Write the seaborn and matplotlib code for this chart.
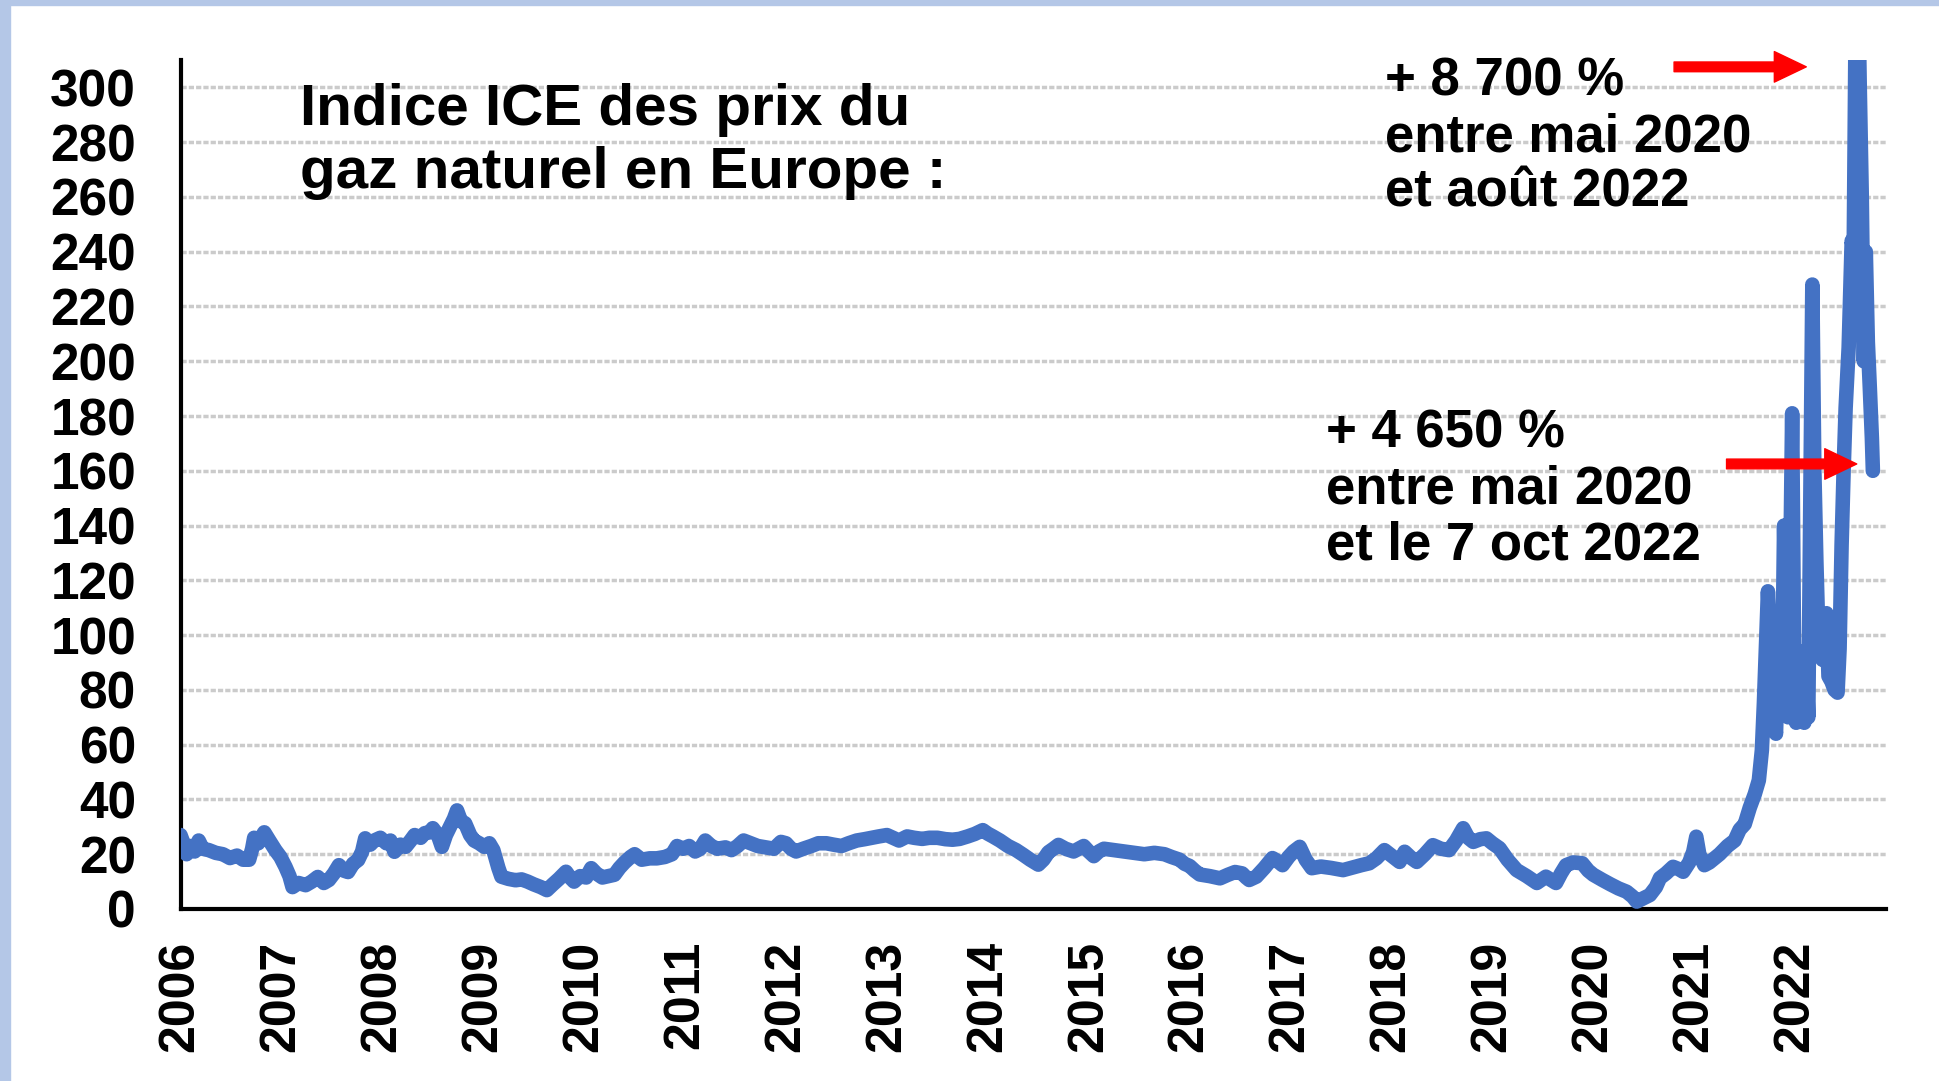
import numpy as np
import pandas as pd
import matplotlib
matplotlib.use("Agg")
import matplotlib.pyplot as plt
from matplotlib.patches import Rectangle
import seaborn as sns

# ICE natural gas price index, Europe
years = [
    2006.00, 2006.03, 2006.06, 2006.10, 2006.14, 2006.18, 2006.22, 2006.28, 2006.35, 2006.42,
    2006.49, 2006.56, 2006.62, 2006.68, 2006.71, 2006.73, 2006.77, 2006.83, 2006.88, 2006.94,
    2006.99, 2007.04, 2007.08, 2007.11, 2007.17, 2007.24, 2007.30, 2007.36, 2007.42, 2007.47,
    2007.52, 2007.57, 2007.62, 2007.66, 2007.71, 2007.76, 2007.80, 2007.83, 2007.88, 2007.92,
    2007.98, 2008.04, 2008.08, 2008.12, 2008.18, 2008.23, 2008.28, 2008.32, 2008.38, 2008.42,
    2008.47, 2008.50, 2008.55, 2008.59, 2008.63, 2008.67, 2008.71, 2008.74, 2008.78, 2008.82,
    2008.87, 2008.91, 2008.96, 2009.01, 2009.06, 2009.10, 2009.15, 2009.18, 2009.25, 2009.32,
    2009.38, 2009.44, 2009.50, 2009.57, 2009.63, 2009.69, 2009.75, 2009.82, 2009.86, 2009.90,
    2009.96, 2010.02, 2010.07, 2010.12, 2010.18, 2010.24, 2010.30, 2010.35, 2010.40, 2010.46,
    2010.50, 2010.57, 2010.65, 2010.72, 2010.80, 2010.87, 2010.92, 2010.98, 2011.04, 2011.10,
    2011.15, 2011.20, 2011.26, 2011.32, 2011.40, 2011.46, 2011.52, 2011.58, 2011.65, 2011.72,
    2011.80, 2011.88, 2011.95, 2012.00, 2012.05, 2012.10, 2012.17, 2012.25, 2012.32, 2012.40,
    2012.47, 2012.55, 2012.62, 2012.70, 2012.78, 2012.85, 2012.92, 2013.00, 2013.06, 2013.12,
    2013.20, 2013.27, 2013.35, 2013.42, 2013.50, 2013.58, 2013.65, 2013.72, 2013.80, 2013.87,
    2013.95, 2014.00, 2014.05, 2014.12, 2014.20, 2014.28, 2014.35, 2014.42, 2014.50, 2014.55,
    2014.60, 2014.65, 2014.70, 2014.77, 2014.85, 2014.90, 2014.95, 2015.00, 2015.05, 2015.10,
    2015.15, 2015.25, 2015.35, 2015.45, 2015.55, 2015.65, 2015.75, 2015.82, 2015.90, 2015.95,
    2016.00, 2016.05, 2016.10, 2016.20, 2016.30, 2016.38, 2016.45, 2016.52, 2016.56, 2016.59,
    2016.66, 2016.74, 2016.82, 2016.87, 2016.92, 2016.98, 2017.03, 2017.09, 2017.15, 2017.21,
    2017.30, 2017.40, 2017.52, 2017.60, 2017.70, 2017.78, 2017.85, 2017.93, 2018.00, 2018.08,
    2018.13, 2018.20, 2018.25, 2018.33, 2018.41, 2018.49, 2018.57, 2018.64, 2018.71, 2018.76,
    2018.81, 2018.88, 2018.94, 2019.00, 2019.07, 2019.15, 2019.24, 2019.34, 2019.44, 2019.53,
    2019.63, 2019.68, 2019.73, 2019.80, 2019.89, 2019.95, 2020.00, 2020.09, 2020.17, 2020.25,
    2020.33, 2020.39, 2020.43, 2020.50, 2020.56, 2020.62, 2020.66, 2020.72, 2020.79, 2020.85,
    2020.89, 2020.95, 2020.99, 2021.02, 2021.05, 2021.10, 2021.15, 2021.25, 2021.33, 2021.40,
    2021.45, 2021.50, 2021.55, 2021.60, 2021.64, 2021.67, 2021.69, 2021.71, 2021.73, 2021.75,
    2021.77, 2021.79, 2021.81, 2021.83, 2021.85, 2021.87, 2021.89, 2021.91, 2021.93, 2021.95,
    2021.97, 2021.99, 2022.01, 2022.03, 2022.05, 2022.07, 2022.09, 2022.11, 2022.13, 2022.15,
    2022.17, 2022.19, 2022.21, 2022.23, 2022.25, 2022.27, 2022.29, 2022.31, 2022.33, 2022.36,
    2022.39, 2022.42, 2022.44, 2022.46, 2022.48, 2022.50, 2022.53, 2022.56, 2022.58, 2022.60,
    2022.62, 2022.64, 2022.66, 2022.68, 2022.70, 2022.72, 2022.74, 2022.76, 2022.77,
]
price_index = [
    27, 24, 20, 23, 21, 25, 22, 21.5, 20.5, 20,
    18.6, 19.5, 18, 18, 22, 26, 24, 28, 25, 21.5,
    19, 15.4, 12, 8, 9.5, 8.7, 10, 11.7, 9.5, 10.6,
    13, 16, 14, 13.5, 16.5, 17.9, 21, 25.8, 23.5, 25,
    26, 24, 25, 20.9, 23.5, 22.7, 25, 27, 26, 27.7,
    28, 29.5, 27, 22.7, 27, 30, 33, 36, 32, 31.3,
    27, 25, 24, 22.7, 24, 21.5, 15, 11.8, 11, 10.5,
    10.8, 10, 9, 8, 6.9, 9, 11, 13.6, 11.5, 10,
    12, 11.5, 14.9, 13, 11.5, 12, 12.5, 15, 17, 19,
    20, 18, 18.5, 18.5, 19, 20, 23, 22, 23, 21,
    22, 25, 23, 22, 22.5, 21.5, 23, 25, 24, 23,
    22.5, 22, 24.5, 24, 22, 21, 22, 23, 24, 24,
    23.5, 23, 24, 25, 25.5, 26, 26.5, 27, 26, 25,
    26.5, 26, 25.6, 26, 26, 25.5, 25.3, 25.6, 26.5, 27.4,
    28.8, 27.5, 26.5, 25, 23, 21.5, 19.8, 18, 16.2, 18,
    20.7, 22, 23.4, 22, 21, 22, 23, 21, 19.3, 21,
    22, 21.5, 21, 20.5, 20, 20.5, 20, 19, 18, 16.5,
    15.7, 14, 12.6, 12, 11.2, 12.5, 13.5, 13, 11.5, 10.6,
    11.8, 15, 18.6, 17.5, 16, 19, 21, 22.7, 18, 14.9,
    15.5, 15, 14.2, 15, 16, 16.7, 18.5, 21.5, 19.5, 17.2,
    20.9, 18.5, 17.2, 20, 23.3, 22, 21.5, 25, 29.5, 26,
    24.5, 25.5, 25.8, 24, 22.2, 18, 14.2, 12, 9.5, 11.8,
    9.5, 13, 16, 17, 16.7, 14, 12.5, 10.6, 9, 7.5,
    6.3, 4.5, 2.7, 4, 5.1, 8, 11.3, 13, 15.4, 14.5,
    13.6, 17, 20.9, 26.4, 20, 16, 17, 20, 23, 25,
    29, 31, 37, 42, 47, 58, 75, 95, 116, 100,
    80, 70, 64, 90, 100, 78, 140, 95, 70, 120,
    181, 90, 68, 80, 94, 75, 68, 90, 70, 150,
    228, 160, 127, 100, 94, 91, 105, 108, 85, 83,
    80, 79, 95, 133, 160, 183, 205, 244, 240, 330,
    345, 300, 260, 200, 240, 207, 190, 172, 160,
]
year_ticks = list(range(2006, 2023))
value_ticks = list(range(0, 301, 20))

title_lines = ["Indice ICE des prix du", "gaz naturel en Europe :"]
note_high = ["+ 8 700 %", "entre mai 2020", "et août 2022"]
note_now = ["+ 4 650 %", "entre mai 2020", "et le 7 oct 2022"]

sns.set_style("white")
plt.rcParams["font.family"] = ["Liberation Sans", "DejaVu Sans"]
plt.rcParams["font.weight"] = "bold"
plt.rcParams["text.color"] = "black"
plt.rcParams["xtick.color"] = "black"
plt.rcParams["ytick.color"] = "black"
plt.rcParams["xtick.labelcolor"] = "black"
plt.rcParams["ytick.labelcolor"] = "black"

W, H = 1939, 1081
fig = plt.figure(figsize=(W / 100, H / 100), dpi=100)
fig.patch.set_facecolor("white")

# light blue frame on left and top
fig.add_artist(Rectangle((0, 0), 10 / W, 1, transform=fig.transFigure,
                         color="#b4c7e7", zorder=0))
fig.add_artist(Rectangle((0, 1 - 5 / H), 1, 5 / H, transform=fig.transFigure,
                         color="#b4c7e7", zorder=0))

ax = fig.add_axes([180.5 / W, 1 - 909 / H, (1886 - 180.5) / W, (909 - 60) / H])
df = pd.DataFrame({"year": years, "index": price_index})
sns.lineplot(data=df, x="year", y="index", ax=ax, color="#4472c4",
             linewidth=10.5, solid_joinstyle="round", solid_capstyle="round",
             zorder=3)

ax.set_xlim(2006, 2022.9)
ax.set_ylim(0, 310)
ax.set_xlabel("")
ax.set_ylabel("")
ax.set_xticks(year_ticks)
ax.set_xticklabels([str(y) for y in year_ticks], rotation=90)
ax.set_yticks(value_ticks)
ax.set_yticklabels([str(v) for v in value_ticks])

for s in ["top", "right"]:
    ax.spines[s].set_visible(False)
for s in ["left", "bottom"]:
    ax.spines[s].set_linewidth(3)
    ax.spines[s].set_color("black")

ax.tick_params(axis="y", direction="inout", length=24, width=3, color="black",
               labelcolor="black", labelsize=37, pad=20)
ax.tick_params(axis="x", direction="inout", length=22, width=3, color="black",
               labelcolor="black", labelsize=36, pad=12)
for lab in ax.get_xticklabels() + ax.get_yticklabels():
    lab.set_fontweight("bold")

ax.yaxis.grid(True, color="#cbcbcb", linewidth=2.5, linestyle=(0, (1.5, 0.6)), zorder=0)
ax.xaxis.grid(False)

# texts
for i, t in enumerate(title_lines):
    fig.text(300 / W, 1 - (125 + 63 * i) / H, t, fontsize=42, fontweight="bold",
             color="black", va="baseline", ha="left")
for i, t in enumerate(note_high):
    fig.text(1385 / W, 1 - (95 + 56 * i) / H, t, fontsize=38, fontweight="bold",
             color="black", va="baseline", ha="left")
for i, t in enumerate(note_now):
    fig.text(1326 / W, 1 - (448 + 56 * i) / H, t, fontsize=38, fontweight="bold",
             color="black", va="baseline", ha="left")

# red arrows
arrow_style = "simple,head_length=1.15,head_width=1.1,tail_width=0.35"
ax.annotate("", xy=(2022.11, 307.5), xytext=(2020.80, 307.5),
            arrowprops=dict(arrowstyle=arrow_style, color="red", mutation_scale=20,
                            shrinkA=0, shrinkB=0),
            annotation_clip=False, zorder=5)
ax.annotate("", xy=(2022.61, 162.5), xytext=(2021.32, 162.5),
            arrowprops=dict(arrowstyle=arrow_style, color="red", mutation_scale=20,
                            shrinkA=0, shrinkB=0),
            annotation_clip=False, zorder=5)

fig.savefig("out.png", dpi=100)
